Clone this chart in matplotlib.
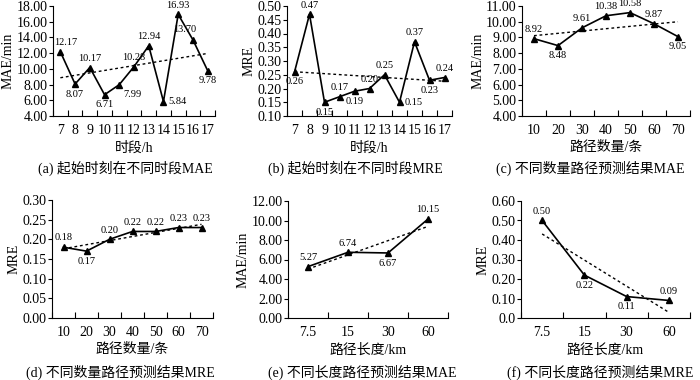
import numpy as np
import matplotlib
matplotlib.use("Agg")
import matplotlib.pyplot as plt
from matplotlib.ticker import FixedLocator, FixedFormatter

plt.rcParams['font.family'] = ['Liberation Serif', 'Noto Sans CJK SC']
plt.rcParams['axes.unicode_minus'] = False

# (a)/(b) start hour
hours = ['7', '8', '9', '10', '11', '12', '13', '14', '15', '16', '17']
mae_hour = [12.17, 8.07, 10.17, 6.71, 7.99, 10.28, 12.94, 5.84, 16.93, 13.70, 9.78]
mre_hour = [0.26, 0.47, 0.15, 0.17, 0.19, 0.20, 0.25, 0.15, 0.37, 0.23, 0.24]

# (c)/(d) number of routes
n_routes = ['10', '20', '30', '40', '50', '60', '70']
mae_routes = [8.92, 8.48, 9.61, 10.38, 10.58, 9.87, 9.05]
mre_routes = [0.18, 0.17, 0.20, 0.22, 0.22, 0.23, 0.23]

# (e)/(f) route length
lengths = ['7.5', '15', '30', '60']
mae_len = [5.27, 6.74, 6.67, 10.15]
mre_len = [0.50, 0.22, 0.11, 0.09]

W, H = 700, 380
fig = plt.figure(figsize=(W / 100, H / 100), dpi=100)


def px_axes(x0, y0, x1, y1):
    # pixel box (top-left origin) -> figure fraction
    return fig.add_axes([x0 / W, 1 - y1 / H, (x1 - x0) / W, (y1 - y0) / H])


def panel(box, cats, vals, yticks, ylabels, ylabel, xlabel, caption, cap_xy, where):
    ax = px_axes(*box)
    x = np.arange(len(cats))
    ax.plot(x, vals, color='black', lw=1.2, marker='^', ms=5, zorder=3)
    k, b = np.polyfit(x, vals, 1)
    ax.plot(x, k * x + b, color='black', lw=1.0, ls=(0, (2, 2)), zorder=2)
    ax.set_xlim(-0.5, len(cats) - 0.5)
    ax.set_ylim(yticks[0], yticks[-1])
    ax.yaxis.set_major_locator(FixedLocator(yticks))
    ax.yaxis.set_major_formatter(FixedFormatter(ylabels))
    ax.xaxis.set_major_locator(FixedLocator(np.arange(len(cats) + 1) - 0.5))
    ax.xaxis.set_major_formatter(FixedFormatter([''] * (len(cats) + 1)))
    ax.xaxis.set_minor_locator(FixedLocator(x))
    ax.xaxis.set_minor_formatter(FixedFormatter(cats))
    ax.tick_params(axis='x', which='major', direction='in', length=4, width=0.8)
    ax.tick_params(axis='x', which='minor', length=0, labelsize=10, pad=6)
    ax.tick_params(axis='y', direction='out', length=3, width=0.8, labelsize=10, pad=1)
    for s in ['top', 'right']:
        ax.spines[s].set_visible(False)
    for s in ['left', 'bottom']:
        ax.spines[s].set_linewidth(0.8)
    ax.set_ylabel(ylabel, fontsize=10, labelpad=1)
    ax.set_xlabel(xlabel, fontsize=10, labelpad=3)
    span = yticks[-1] - yticks[0]
    for xi, v, w in zip(x, vals, where):
        txt = f'{v:.2f}'
        if w == 'a':
            ax.text(xi, v + span * 0.04, txt, ha='center', va='bottom', fontsize=7.5)
        elif w == 'ar':
            ax.text(xi + 0.35, v + span * 0.04, txt, ha='center', va='bottom', fontsize=7.5)
        elif w == 'al':
            ax.text(xi - 0.55, v + span * 0.05, txt, ha='center', va='bottom', fontsize=7.5)
        elif w == 'b':
            ax.text(xi, v - span * 0.05, txt, ha='center', va='top', fontsize=7.5)
        elif w == 'r':
            ax.text(xi + 0.35, v, txt, ha='left', va='center', fontsize=7.5)
        elif w == 'br':
            ax.text(xi + 0.3, v - span * 0.05, txt, ha='left', va='top', fontsize=7.5)
    fig.text(cap_xy[0] / W, 1 - cap_xy[1] / H, caption, ha='center', va='center', fontsize=10)
    return ax


panel((53, 6, 215, 116), hours, mae_hour,
      [4, 6, 8, 10, 12, 14, 16, 18], [f'{t:.2f}' for t in range(4, 19, 2)],
      'MAE/min', '时段/h', '(a) 起始时刻在不同时段MAE', (125, 168),
      ['ar', 'b', 'a', 'b', 'br', 'a', 'a', 'r', 'a', 'al', 'b'])

panel((287, 6, 452, 116), hours, mre_hour,
      [0.10, 0.15, 0.20, 0.25, 0.30, 0.35, 0.40, 0.45, 0.50],
      ['0.10', '0.15', '0.20', '0.25', '0.30', '0.35', '0.40', '0.45', '0.50'],
      'MRE', '时段/h', '(b) 起始时刻在不同时段MRE', (355, 168),
      ['b', 'a', 'b', 'a', 'b', 'a', 'a', 'r', 'a', 'b', 'a'])

panel((522, 6, 690, 116), n_routes, mae_routes,
      [4, 5, 6, 7, 8, 9, 10, 11], [f'{t:.2f}' for t in range(4, 12)],
      'MAE/min', '路径数量/条', '(c) 不同数量路径预测结果MAE', (590, 168),
      ['a', 'b', 'a', 'a', 'a', 'a', 'b'])

panel((52, 200, 213, 318), n_routes, mre_routes,
      [0.0, 0.05, 0.10, 0.15, 0.20, 0.25, 0.30],
      ['0.00', '0.05', '0.10', '0.15', '0.20', '0.25', '0.30'],
      'MRE', '路径数量/条', '(d) 不同数量路径预测结果MRE', (120, 372),
      ['a', 'b', 'a', 'a', 'a', 'a', 'a'])

panel((288, 201, 448, 318), lengths, mae_len,
      [0, 2, 4, 6, 8, 10, 12], [f'{t:.2f}' for t in range(0, 13, 2)],
      'MAE/min', '路径长度/km', '(e) 不同长度路径预测结果MAE', (362, 372),
      ['a', 'a', 'b', 'a'])

panel((521, 201, 690, 318), lengths, mre_len,
      [0.0, 0.1, 0.2, 0.3, 0.4, 0.5, 0.6],
      ['0.0', '0.10', '0.20', '0.30', '0.40', '0.50', '0.60'],
      'MRE', '路径长度/km', '(f) 不同长度路径预测结果MRE', (600, 372),
      ['a', 'b', 'b', 'a'])

fig.savefig('out.png', dpi=100)
